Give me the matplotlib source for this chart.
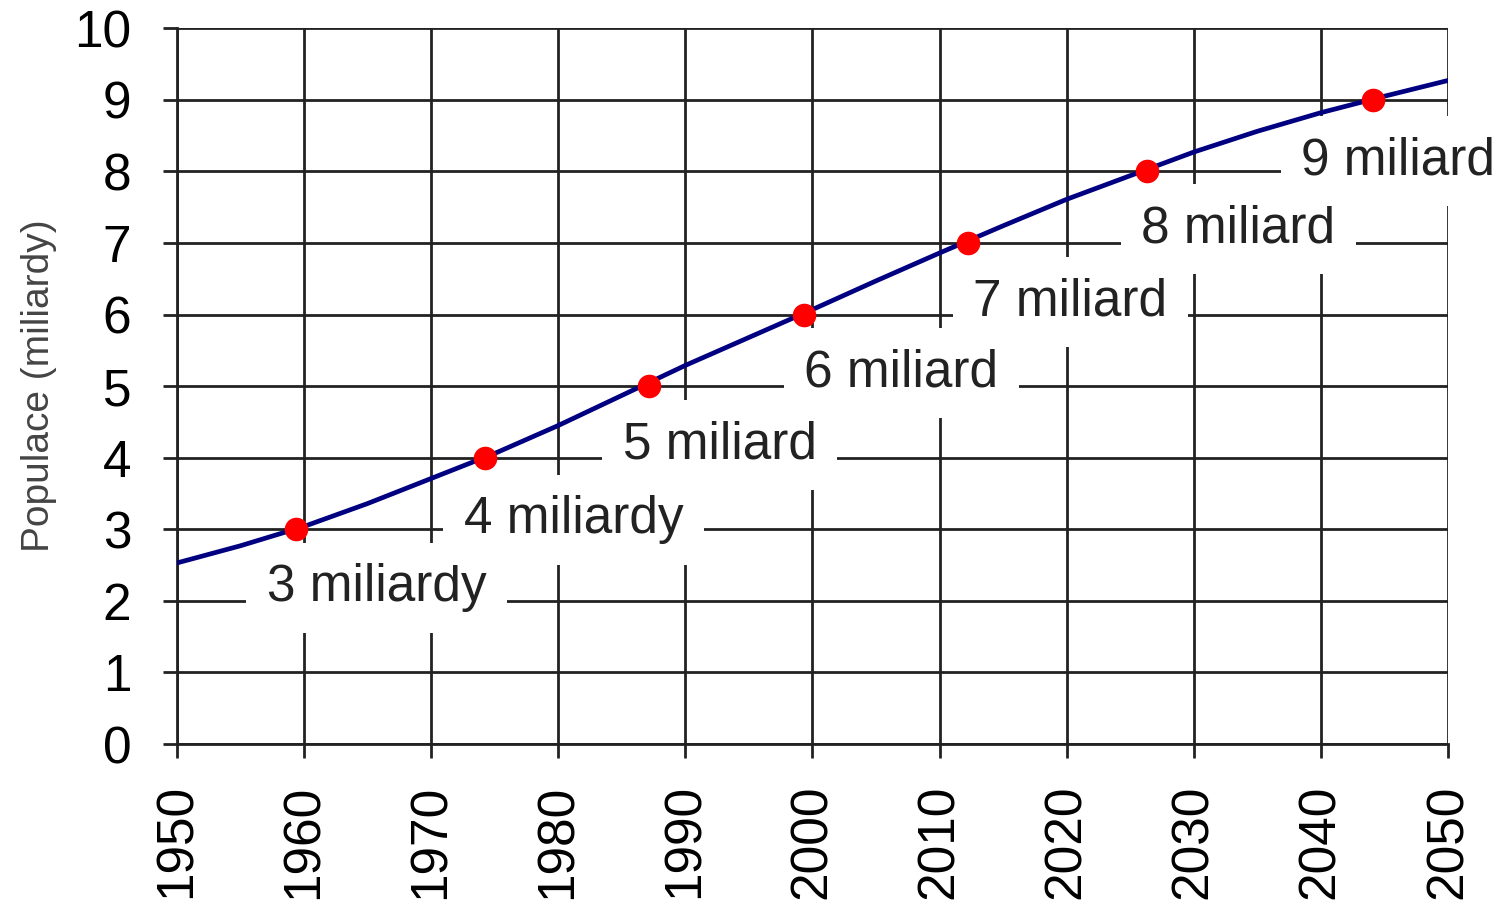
import matplotlib.pyplot as plt

# population curve (every 5 years)
years = [1950, 1955, 1960, 1965, 1970, 1975, 1980, 1985, 1990, 1995, 2000,
         2005, 2010, 2015, 2020, 2025, 2030, 2035, 2040, 2045, 2050]
population = [2.53, 2.77, 3.04, 3.36, 3.71, 4.06, 4.45, 4.87, 5.29, 5.68, 6.07,
              6.47, 6.86, 7.24, 7.61, 7.94, 8.27, 8.56, 8.82, 9.05, 9.27]

# milestone points
milestone_years = [1959.4, 1974.2, 1987.1, 1999.3, 2012.2, 2026.3, 2044.1]
milestone_values = [3, 4, 5, 6, 7, 8, 9]
milestone_labels = ['3 miliardy', '4 miliardy', '5 miliard', '6 miliard',
                    '7 miliard', '8 miliard', '9 miliard']
label_x = [1965.7, 1981.2, 1992.7, 2007.0, 2020.3, 2033.5, 2046.1]
label_y = [2.18, 3.13, 4.18, 5.18, 6.17, 7.2, 8.15]

plt.rcParams['font.family'] = ['Liberation Sans', 'DejaVu Sans']

fig = plt.figure(figsize=(15.04, 9.11), dpi=100)
ax = fig.add_axes([0.1177, 0.1833, 0.845, 0.7857])

ax.plot(years, population, color='#000080', linewidth=3.4, zorder=4)
ax.plot(milestone_years, milestone_values, 'o', color='#ff0000',
        markersize=17, markeredgewidth=0, zorder=5)

for x, y, txt in zip(label_x, label_y, milestone_labels):
    ax.text(x, y, txt, ha='center', va='center', fontsize=37, color='#222222',
            bbox=dict(boxstyle='square,pad=0.4', facecolor='white', edgecolor='none'),
            zorder=3, clip_on=False)

ax.set_xlim(1950, 2050)
ax.set_ylim(0, 10)
ax.set_xticks(range(1950, 2051, 10))
ax.set_yticks(range(0, 11))
ax.set_xticklabels([str(y) for y in range(1950, 2051, 10)], rotation=90, fontsize=37)
ax.set_yticklabels([str(v) for v in range(0, 11)], fontsize=37)
ax.tick_params(axis='both', length=10, width=2, color='#222222')
ax.tick_params(axis='y', pad=23)
ax.tick_params(axis='x', pad=19)

ax.grid(True, color='#222222', linewidth=2)
ax.set_axisbelow(True)
for side in ['top', 'right']:
    ax.spines[side].set_visible(False)
for side in ['left', 'bottom']:
    ax.spines[side].set_linewidth(2)
    ax.spines[side].set_color('#222222')

ax.set_ylabel('Populace (miliardy)', fontsize=28, color='#444444', labelpad=12)

fig.savefig('out.png', dpi=100, facecolor='white')
